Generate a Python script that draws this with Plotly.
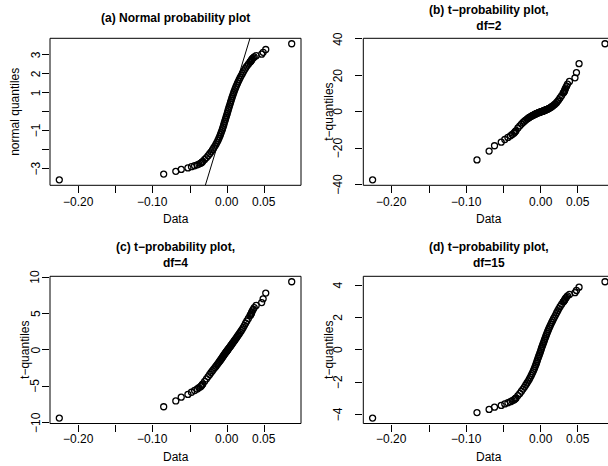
import plotly.graph_objects as go

# ---------------- data ----------------
# sorted daily returns (a subset of the ranks: every extreme point plus a dense sample of the body)
returns_sorted = [
    -0.2260, -0.0856, -0.0693, -0.0620, -0.0530, -0.0482, -0.0440, -0.0405,
    -0.0382, -0.0360, -0.0348, -0.0338,
    -0.0330, -0.0305, -0.0280, -0.0258, -0.0237, -0.0218, -0.0200, -0.0183,
    -0.0167, -0.0152, -0.0139, -0.0126, -0.0114, -0.0103, -0.0093, -0.0083,
    -0.0074, -0.0065, -0.0057, -0.0049, -0.0042, -0.0034, -0.0026, -0.0018,
    -0.0010, -0.0002, 0.0005, 0.0012, 0.0020, 0.0028, 0.0036, 0.0044,
    0.0052, 0.0060, 0.0068, 0.0077, 0.0086, 0.0095, 0.0105, 0.0115,
    0.0126, 0.0137, 0.0149, 0.0161, 0.0174, 0.0188, 0.0202, 0.0216,
    0.0231, 0.0246, 0.0263, 0.0283, 0.0303,
    0.0313, 0.0318, 0.0324, 0.0330, 0.0337, 0.0349, 0.0362, 0.0388,
    0.0462, 0.0482, 0.0517, 0.0866,
]

normal_quantiles = [
    -3.571, -3.270, -3.123, -3.022, -2.945, -2.882, -2.830, -2.783, -2.742, -2.705, -2.671, -2.640,
    -2.6, -2.5, -2.4, -2.3, -2.2, -2.1, -2.0, -1.9,
    -1.8, -1.7, -1.6, -1.5, -1.4, -1.3, -1.2, -1.1,
    -1.0, -0.9, -0.8, -0.7, -0.6, -0.5, -0.4, -0.3,
    -0.2, -0.1, 0.0, 0.1, 0.2, 0.3, 0.4, 0.5,
    0.6, 0.7, 0.8, 0.9, 1.0, 1.1, 1.2, 1.3,
    1.4, 1.5, 1.6, 1.7, 1.8, 1.9, 2.0, 2.1,
    2.2, 2.3, 2.4, 2.5, 2.6,
    2.640, 2.671, 2.705, 2.742, 2.783, 2.830, 2.882, 2.945, 3.022, 3.123, 3.270, 3.571,
]

t2_quantiles = [
    -37.29, -26.35, -21.51, -18.61, -16.64, -15.18, -14.05, -13.13, -12.38, -11.74, -11.18, -10.70,
    -10.286, -8.889, -7.712, -6.719, -5.872, -5.148, -4.527, -3.991,
    -3.526, -3.121, -2.766, -2.454, -2.176, -1.928, -1.706, -1.505,
    -1.321, -1.153, -0.997, -0.852, -0.716, -0.586, -0.463, -0.343,
    -0.227, -0.113, 0.0, 0.113, 0.227, 0.343, 0.463, 0.586,
    0.716, 0.852, 0.997, 1.153, 1.321, 1.505, 1.706, 1.928,
    2.176, 2.454, 2.766, 3.121, 3.526, 3.991, 4.527, 5.148,
    5.872, 6.719, 7.712, 8.889, 10.286,
    10.70, 11.18, 11.74, 12.38, 13.13, 14.05, 15.18, 16.64, 18.61, 21.51, 26.35, 37.29,
]

t4_quantiles = [
    -9.384, -7.830, -7.032, -6.510, -6.128, -5.831, -5.589, -5.386, -5.211, -5.059, -4.925, -4.804,
    -4.698, -4.324, -3.981, -3.667, -3.379, -3.114, -2.869, -2.642,
    -2.432, -2.235, -2.051, -1.878, -1.715, -1.561, -1.414, -1.275,
    -1.142, -1.014, -0.890, -0.771, -0.655, -0.541, -0.430, -0.321,
    -0.213, -0.106, 0.0, 0.106, 0.213, 0.321, 0.430, 0.541,
    0.655, 0.771, 0.890, 1.014, 1.142, 1.275, 1.414, 1.561,
    1.715, 1.878, 2.051, 2.235, 2.432, 2.642, 2.869, 3.114,
    3.379, 3.667, 3.981, 4.324, 4.698,
    4.804, 4.925, 5.059, 5.211, 5.386, 5.589, 5.831, 6.128, 6.510, 7.032, 7.830, 9.384,
]

t15_quantiles = [
    -4.234, -3.895, -3.697, -3.556, -3.448, -3.359, -3.283, -3.218, -3.159, -3.109, -3.062, -3.020,
    -2.981, -2.840, -2.702, -2.567, -2.436, -2.307, -2.181, -2.058,
    -1.937, -1.818, -1.701, -1.586, -1.473, -1.361, -1.251, -1.142,
    -1.034, -0.928, -0.822, -0.718, -0.614, -0.511, -0.408, -0.306,
    -0.204, -0.102, 0.0, 0.102, 0.204, 0.306, 0.408, 0.511,
    0.614, 0.718, 0.822, 0.928, 1.034, 1.142, 1.251, 1.361,
    1.473, 1.586, 1.701, 1.818, 1.937, 2.058, 2.181, 2.307,
    2.436, 2.567, 2.702, 2.840, 2.981,
    3.020, 3.062, 3.109, 3.159, 3.218, 3.283, 3.359, 3.448, 3.556, 3.697, 3.895, 4.234,
]

# reference line of panel (a): data quartiles vs normal quartiles
data_quartiles = [-0.0048, 0.0057]
normal_quartiles = [-0.6745, 0.6745]

x_tick_values = [-0.20, -0.15, -0.10, -0.05, 0.00, 0.05]
x_tick_labels = ["\u22120.20", "", "\u22120.10", "", "0.00", "0.05"]

y_tick_values_a = [-3, -2, -1, 0, 1, 2, 3]
y_tick_labels_a = ["\u22123", "", "\u22121", "", "1", "2", "3"]
y_tick_values_b = [-40, -20, 0, 20, 40]
y_tick_labels_b = ["\u221240", "\u221220", "0", "20", "40"]
y_tick_values_c = [-10, -5, 0, 5, 10]
y_tick_labels_c = ["\u221210", "\u22125", "0", "5", "10"]
y_tick_values_d = [-4, -2, 0, 2, 4]
y_tick_labels_d = ["\u22124", "\u22122", "0", "2", "4"]

panel_titles = [
    "(a) Normal probability plot",
    "(b) t\u2212probability plot,<br>df=2",
    "(c) t\u2212probability plot,<br>df=4",
    "(d) t\u2212probability plot,<br>df=15",
]
y_titles = ["normal quantiles", "t\u2212quantiles", "t\u2212quantiles", "t\u2212quantiles"]
x_title = "Data"

# ---------------- layout (pixel geometry) ----------------
W, H = 608, 466
FONT = "Liberation Sans, Arial, Helvetica, sans-serif"
FS = 12

panels = [
    dict(y=normal_quantiles, yt=(y_tick_values_a, y_tick_labels_a),
         box=(50, 301, 38.3, 185.3), title_y=18.3, xtick_y=201.5, xlab_y=218.5,
         ytick_x=35.5, ylab_x=15),
    dict(y=t2_quantiles, yt=(y_tick_values_b, y_tick_labels_b),
         box=(363.3, 614.3, 38.3, 185.3), title_y=18.3, xtick_y=201.5, xlab_y=218.5,
         ytick_x=338, ylab_x=329),
    dict(y=t4_quantiles, yt=(y_tick_values_c, y_tick_labels_c),
         box=(50, 301, 276.3, 423.5), title_y=254.5, xtick_y=438.5, xlab_y=456.5,
         ytick_x=35.5, ylab_x=25),
    dict(y=t15_quantiles, yt=(y_tick_values_d, y_tick_labels_d),
         box=(363.3, 614.3, 276.3, 423.5), title_y=254.5, xtick_y=438.5, xlab_y=456.5,
         ytick_x=338, ylab_x=329),
]


def r_range(values):
    lo, hi = min(values), max(values)
    pad = 0.04 * (hi - lo)
    return lo - pad, hi + pad


def text_font():
    return dict(family=FONT, size=FS, color="black")


fig = go.Figure()
layout = dict(width=W, height=H, margin=dict(l=0, r=0, t=0, b=0),
              paper_bgcolor="white", plot_bgcolor="white", showlegend=False,
              font=text_font())
shapes, annotations = [], []

x_lo, x_hi = r_range(returns_sorted)

for k, p in enumerate(panels):
    left, right, top, bottom = p["box"]
    sx = "" if k == 0 else str(k + 1)
    vis_right = min(right, W)
    vis_hi = x_lo + (x_hi - x_lo) * (vis_right - left) / (right - left)
    y_lo, y_hi = r_range(p["y"])

    layout["xaxis" + sx] = dict(
        domain=[left / W, vis_right / W], range=[x_lo, vis_hi], anchor="y" + sx,
        showgrid=False, zeroline=False, showline=False, showticklabels=False,
        ticks="outside", ticklen=7, tickwidth=1, tickcolor="black",
        tickvals=x_tick_values)
    layout["yaxis" + sx] = dict(
        domain=[1 - bottom / H, 1 - top / H], range=[y_lo, y_hi], anchor="x" + sx,
        showgrid=False, zeroline=False, showline=False, showticklabels=False,
        ticks="outside", ticklen=7, tickwidth=1, tickcolor="black",
        tickvals=p["yt"][0])

    fig.add_trace(go.Scatter(
        x=returns_sorted, y=p["y"], mode="markers", xaxis="x" + sx, yaxis="y" + sx,
        marker=dict(symbol="circle-open", size=6, color="black",
                    line=dict(width=1.3, color="black")),
        hoverinfo="skip"))

    if k == 0:
        slope = (normal_quartiles[1] - normal_quartiles[0]) / (data_quartiles[1] - data_quartiles[0])
        intercept = normal_quartiles[0] - slope * data_quartiles[0]
        fig.add_trace(go.Scatter(
            x=[x_lo, x_hi], y=[intercept + slope * x_lo, intercept + slope * x_hi],
            mode="lines", xaxis="x", yaxis="y", line=dict(color="black", width=1),
            hoverinfo="skip"))

    # plot box
    shapes.append(dict(type="rect", xref="paper", yref="paper",
                       x0=left / W, x1=right / W, y0=1 - bottom / H, y1=1 - top / H,
                       line=dict(color="black", width=1), fillcolor="rgba(0,0,0,0)"))

    # tick labels (R drops the ones that would collide)
    for v, lab in zip(x_tick_values, x_tick_labels):
        if lab:
            annotations.append(dict(text=lab, xref="x" + sx, yref="paper", x=v,
                                    y=1 - p["xtick_y"] / H, xanchor="center", yanchor="middle",
                                    showarrow=False, borderpad=0, font=text_font()))
    for v, lab in zip(p["yt"][0], p["yt"][1]):
        if lab:
            annotations.append(dict(text=lab, xref="paper", yref="y" + sx,
                                    x=p["ytick_x"] / W, y=v, textangle=-90,
                                    xanchor="center", yanchor="middle",
                                    showarrow=False, borderpad=0, font=text_font()))

    cx = (left + right) / 2
    annotations.append(dict(text="<b>" + panel_titles[k].replace("<br>", "</b><br><b>") + "</b>",
                            xref="paper", yref="paper",
                            x=cx / W, y=1 - p["title_y"] / H, xanchor="center", yanchor="middle",
                            showarrow=False, borderpad=0, font=text_font()))
    annotations.append(dict(text=x_title, xref="paper", yref="paper",
                            x=cx / W, y=1 - p["xlab_y"] / H, xanchor="center", yanchor="middle",
                            showarrow=False, borderpad=0, font=text_font()))
    annotations.append(dict(text=y_titles[k], xref="paper", yref="paper", textangle=-90,
                            x=p["ylab_x"] / W, y=1 - (top + bottom) / 2 / H,
                            xanchor="center", yanchor="middle",
                            showarrow=False, borderpad=0, font=text_font()))

layout["shapes"] = shapes
layout["annotations"] = annotations
fig.update_layout(**layout)
fig.write_html("out.html")
